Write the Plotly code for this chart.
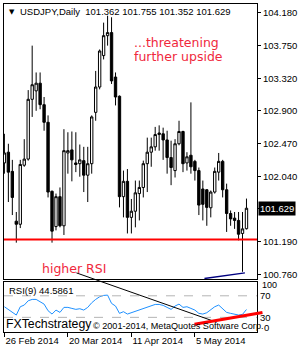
import plotly.graph_objects as go

# ---------------- data ----------------
date_labels = ["26 Feb 2014", "20 Mar 2014", "11 Apr 2014", "5 May 2014"]
date_label_bars = [0, 16, 32, 48]

opens = [102.22, 102.36, 102.11, 101.46, 101.42, 102.19, 102.27, 103.05, 103.16, 103.26,
         102.98, 102.75, 101.85, 101.39, 101.78, 101.40, 102.35, 102.39, 102.22, 102.21,
         102.25, 102.06, 102.21, 102.88, 103.21, 103.62, 103.88, 103.92, 103.34, 103.09,
         101.78, 101.98, 101.51, 101.59, 101.82, 101.90, 102.21, 102.36, 102.43, 102.59,
         102.60, 102.52, 102.29, 102.12, 102.47, 102.63, 102.22, 102.32, 102.24, 102.12,
         101.88, 101.87, 101.635, 101.84, 102.10, 102.24, 101.87, 101.56, 101.50, 101.47,
         101.30, 101.362]
highs = [102.60, 102.47, 102.26, 101.58, 102.26, 102.53, 103.17, 103.75, 103.40, 103.40,
         103.08, 102.84, 101.86, 101.82, 101.90, 102.66, 102.62, 102.63, 102.62, 102.46,
         102.43, 102.43, 102.84, 103.42, 103.70, 104.05, 104.14, 104.12, 103.40, 103.10,
         102.12, 102.14, 101.75, 101.99, 101.99, 102.25, 102.55, 102.55, 102.69, 102.71,
         102.68, 102.64, 102.51, 102.53, 102.77, 102.64, 102.36, 103.01, 102.26, 102.16,
         101.99, 101.88, 101.86, 102.16, 102.35, 102.26, 101.95, 101.60, 101.58, 101.58,
         101.58, 101.755]
lows = [102.08, 101.71, 101.54, 101.18, 101.37, 102.17, 102.25, 102.82, 102.90, 102.92,
        102.64, 101.77, 101.18, 101.34, 101.38, 101.28, 102.08, 101.98, 102.10, 102.04,
        101.84, 101.71, 102.08, 102.77, 103.18, 103.57, 103.75, 103.25, 102.97, 101.64,
        101.51, 101.30, 101.30, 101.38, 101.47, 101.77, 101.84, 102.17, 102.38, 102.38,
        102.26, 102.08, 101.93, 102.03, 102.45, 102.10, 102.12, 102.08, 101.99, 101.54,
        101.47, 101.40, 101.51, 101.82, 101.99, 101.77, 101.32, 101.40, 101.36, 101.21,
        100.80, 101.352]
closes = [102.35, 102.10, 101.77, 101.42, 102.20, 102.27, 103.05, 103.24, 103.26, 102.98,
          102.75, 101.84, 101.33, 101.78, 101.40, 102.38, 102.38, 102.26, 102.20, 102.26,
          102.06, 102.21, 102.82, 103.21, 103.68, 103.88, 103.92, 103.29, 103.08, 101.78,
          101.98, 101.51, 101.59, 101.83, 101.90, 102.21, 102.36, 102.43, 102.59, 102.61,
          102.52, 102.29, 102.16, 102.47, 102.63, 102.21, 102.30, 102.17, 102.12, 101.67,
          101.68, 101.64, 101.84, 102.11, 102.24, 101.87, 101.56, 101.49, 101.47, 101.29,
          101.36, 101.629]
rsi = [49.7, 44.8, 40.5, 34.3, 49.7, 52.8, 60.8, 63.3, 63.3, 59.0,
       54.6, 42.3, 36.1, 43.5, 39.2, 48.5, 48.5, 46.6, 44.8, 46.0,
       43.5, 48.5, 57.1, 63.3, 68.2, 70.7, 71.3, 55.9, 51.0, 37.4,
       40.5, 36.1, 38.6, 42.3, 43.5, 46.6, 49.7, 51.0, 54.0, 54.0,
       52.2, 48.5, 44.8, 51.0, 54.6, 48.5, 49.7, 46.6, 43.5, 37.4,
       36.1, 38.6, 43.5, 49.7, 52.8, 46.6, 39.2, 37.4, 36.1, 34.3,
       35.5, 44.5861]

price_ticks = [104.18, 103.75, 103.32, 102.90, 102.47, 102.04, 101.19, 100.76]
support_level = 101.22
last_ohlc = [101.362, 101.755, 101.352, 101.629]
rsi_levels = [70, 30]
rsi_period = 9

# drawn trend lines
low_trend_bars = [50.4, 60.6]
low_trend_prices = [100.713, 100.786]

symbol = "USDJPY,Daily"
note_upside = ["...threatening", "further upside"]
note_rsi = "higher RSI"

# ---------------- layout helpers (pixels -> paper) ----------------
W, H = 300, 350
ML, MR, MT, MB = 3, 42, 3, 18
PW, PH = W - ML - MR, H - MT - MB


def px(X):
    return (X - ML) / PW


def py(Y):
    return (H - MB - Y) / PH


# diagonal lines drawn over the panels (pixel endpoints)
rsi_down_line = [(76, 272.7), (213, 320.7)]
rsi_up_line = [(195, 324.3), (263.5, 312.5)]

bars = list(range(len(closes)))

fig = go.Figure()
fig.add_trace(go.Candlestick(
    x=bars, open=opens, high=highs, low=lows, close=closes,
    xaxis="x2", yaxis="y2",
    increasing=dict(line=dict(color="black", width=1), fillcolor="white"),
    decreasing=dict(line=dict(color="black", width=1), fillcolor="black"),
    whiskerwidth=0, showlegend=False, hoverinfo="skip",
))
fig.add_trace(go.Scatter(
    x=low_trend_bars, y=low_trend_prices, xaxis="x2", yaxis="y2",
    mode="lines", line=dict(color="#000080", width=1.5), showlegend=False,
))
fig.add_trace(go.Scatter(
    x=bars, y=rsi, xaxis="x", yaxis="y", mode="lines",
    line=dict(color="#1e90ff", width=1), showlegend=False,
))

main_bottom = py(279.3)
rsi_top = py(281.7)
font_mt = "Liberation Sans, Arial, sans-serif"

fig.update_layout(
    width=W, height=H,
    margin=dict(l=ML, r=MR, t=MT, b=MB, pad=0),
    paper_bgcolor="white", plot_bgcolor="white",
    boxgap=0.15,
    font=dict(family=font_mt, size=9.5, color="black"),
    xaxis=dict(
        domain=[0, 1], anchor="y", range=[-0.1, 63.65],
        showline=True, mirror=True, linecolor="black", linewidth=1,
        showgrid=False, zeroline=False,
        tickvals=date_label_bars, ticktext=date_labels,
        ticks="outside", ticklen=4, tickcolor="black",
        ticklabelposition="outside right",
        tickfont=dict(size=9.5), rangeslider=dict(visible=False),
    ),
    xaxis2=dict(
        domain=[0, 1], anchor="y2", matches="x",
        showline=True, mirror=True, linecolor="black", linewidth=1,
        showgrid=False, zeroline=False, showticklabels=False, ticks="",
        rangeslider=dict(visible=False),
    ),
    yaxis=dict(
        domain=[0, rsi_top], anchor="x", range=[2.8, 95.9], side="right",
        showline=True, mirror=True, linecolor="black", linewidth=1,
        showgrid=False, zeroline=False,
        tickvals=rsi_levels, ticktext=[str(v) for v in rsi_levels], ticks="",
        tickfont=dict(size=9.5),
    ),
    yaxis2=dict(
        domain=[main_bottom, 1], anchor="x2", range=[100.700, 104.293], side="right",
        showline=True, mirror=True, linecolor="black", linewidth=1,
        showgrid=False, zeroline=False,
        tickvals=price_ticks + [last_ohlc[3]],
        ticktext=[f"{v:.3f}" for v in price_ticks] + [""],
        ticks="outside", ticklen=3, tickcolor="black",
        tickfont=dict(size=9.5),
    ),
)

shapes = [
    dict(type="line", xref="x2 domain", yref="y2", x0=0, x1=1,
         y0=support_level, y1=support_level, line=dict(color="#ff0000", width=2)),
]
for lv in rsi_levels:
    shapes.append(dict(type="line", xref="x domain", yref="y", x0=0, x1=1, y0=lv, y1=lv,
                       line=dict(color="#b4b4b4", width=1, dash="dash")))
(a, b) = rsi_down_line
shapes.append(dict(type="line", xref="paper", yref="paper", x0=px(a[0]), y0=py(a[1]),
                   x1=px(b[0]), y1=py(b[1]), line=dict(color="black", width=1)))
(a, b) = rsi_up_line
shapes.append(dict(type="line", xref="paper", yref="paper", x0=px(a[0]), y0=py(a[1]),
                   x1=px(b[0]), y1=py(b[1]), line=dict(color="#ff0000", width=3)))
fig.update_layout(shapes=shapes)

red = "#f0283c"
ann = []


def text(X, Y, s, size=9.5, color="black", family=font_mt, **kw):
    d = dict(xref="paper", yref="paper", x=px(X), y=py(Y), text=s, showarrow=False,
             xanchor="left", yanchor="middle", font=dict(size=size, color=color, family=family))
    d.update(kw)
    ann.append(d)


text(6, 11, "▼", size=7, family="DejaVu Sans")
text(17, 11, symbol + "  " + " ".join(f"{v:.3f}" for v in last_ohlc))
text(132, 41.5, note_upside[0], size=12.5, color=red, family="DejaVu Sans")
text(132, 55.5, note_upside[1], size=12.5, color=red, family="DejaVu Sans")
text(39, 268, note_rsi, size=12.5, color=red, family="DejaVu Sans")
text(6, 290, f"RSI({rsi_period}) {rsi[-1]:.4f}")
text(3, 324, "FXTechstrategy", size=12.3)
text(91, 325.5, "© 2001-2014, MetaQuotes Software Corp.", size=9.1)
text(261, 285, "100", size=9)
text(263, 327, "0")
# highlighted current price on the price scale
ann.append(dict(xref="paper", yref="y2", x=px(259), y=last_ohlc[3], text=f"{last_ohlc[3]:.3f}",
                showarrow=False, xanchor="left", yanchor="middle", bgcolor="black",
                borderpad=1, font=dict(size=9.5, color="white", family=font_mt)))
fig.update_layout(annotations=ann)

fig.write_html("out.html")
